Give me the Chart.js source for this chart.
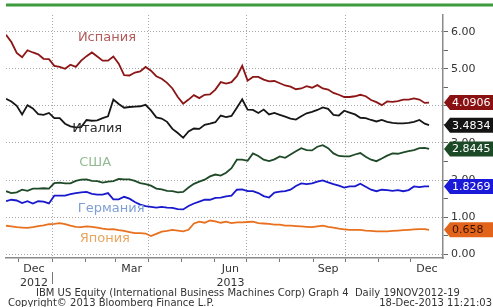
<!DOCTYPE html>
<html><head><meta charset="utf-8">
<script src="https://cdn.jsdelivr.net/npm/chart.js@4.4.1/dist/chart.umd.min.js"></script>
<style>html,body{margin:0;padding:0;background:#fff;overflow:hidden}#wrap{width:493px;height:307px;position:relative}</style>
</head><body><div id="wrap"><canvas id="c" width="493" height="307"></canvas></div>
<script>
// trading-day offsets from 19-Nov-2012
const days = [0,5,10,15,20,25,30,35,40,45,50,55,60,65,70,75,80,85,90,95,
  100,105,110,115,120,125,130,135,140,145,150,155,160,165,170,175,180,185,190,195,
  200,205,210,215,220,225,230,235,240,245,250,255,260,265,270,275,280,285,290,295,
  300,305,310,315,320,325,330,335,340,345,350,355,360,365,370,375,380,385,390,394];

const spain = [5.92,5.72,5.43,5.31,5.50,5.44,5.39,5.27,5.26,5.08,
 5.05,5.00,5.11,5.05,5.22,5.34,5.44,5.33,5.22,5.22,
 5.33,5.14,4.83,4.82,4.90,4.93,5.05,4.95,4.80,4.73,
 4.62,4.47,4.24,4.06,4.17,4.29,4.21,4.30,4.31,4.44,
 4.64,4.60,4.64,4.80,5.08,4.68,4.78,4.78,4.71,4.66,
 4.67,4.61,4.55,4.52,4.45,4.47,4.53,4.49,4.56,4.47,
 4.44,4.35,4.30,4.24,4.24,4.26,4.30,4.26,4.16,4.10,
 4.02,4.12,4.11,4.13,4.17,4.17,4.20,4.17,4.08,4.09];

const italy = [4.19,4.12,4.00,3.77,4.02,3.93,3.78,3.76,3.81,3.67,
 3.67,3.52,3.45,3.42,3.43,3.62,3.60,3.61,3.67,3.72,
 4.17,4.05,3.95,3.97,3.98,3.99,4.03,3.88,3.69,3.66,
 3.57,3.38,3.27,3.14,3.31,3.39,3.38,3.49,3.52,3.56,
 3.74,3.70,3.73,3.95,4.18,3.90,3.89,3.81,3.90,3.77,
 3.81,3.76,3.71,3.66,3.63,3.72,3.80,3.84,3.89,3.96,
 3.92,3.76,3.74,3.87,3.82,3.77,3.68,3.67,3.62,3.58,
 3.62,3.57,3.54,3.53,3.53,3.54,3.57,3.62,3.52,3.48];

const usa = [1.70,1.65,1.67,1.74,1.71,1.77,1.77,1.78,1.77,1.92,
 1.93,1.91,1.91,1.98,2.01,2.02,1.98,1.97,1.93,1.96,
 1.97,2.03,2.02,2.02,1.98,1.92,1.89,1.85,1.77,1.75,
 1.71,1.70,1.67,1.68,1.80,1.90,1.96,2.01,2.10,2.15,
 2.12,2.20,2.32,2.55,2.55,2.52,2.72,2.65,2.55,2.51,
 2.56,2.64,2.60,2.69,2.78,2.86,2.81,2.80,2.90,2.94,
 2.86,2.72,2.65,2.64,2.64,2.69,2.73,2.63,2.55,2.51,
 2.58,2.66,2.72,2.71,2.75,2.78,2.81,2.86,2.87,2.84];

const germany = [1.43,1.47,1.45,1.38,1.43,1.37,1.43,1.42,1.37,1.58,
 1.58,1.58,1.62,1.65,1.67,1.68,1.63,1.61,1.61,1.65,
 1.48,1.48,1.55,1.50,1.41,1.34,1.30,1.28,1.26,1.28,
 1.26,1.25,1.22,1.21,1.30,1.37,1.42,1.47,1.47,1.52,
 1.53,1.56,1.58,1.74,1.75,1.70,1.70,1.65,1.57,1.53,
 1.66,1.69,1.70,1.74,1.84,1.91,1.89,1.91,1.96,1.99,
 1.94,1.89,1.85,1.80,1.83,1.83,1.90,1.82,1.74,1.70,
 1.74,1.73,1.71,1.73,1.70,1.73,1.83,1.81,1.83,1.83];

const japan = [0.77,0.75,0.73,0.72,0.71,0.73,0.76,0.78,0.81,0.82,
 0.84,0.81,0.77,0.74,0.73,0.75,0.74,0.72,0.69,0.67,
 0.68,0.65,0.63,0.60,0.57,0.57,0.56,0.49,0.55,0.61,
 0.63,0.66,0.64,0.62,0.66,0.83,0.88,0.85,0.91,0.89,
 0.85,0.88,0.84,0.86,0.86,0.87,0.88,0.84,0.83,0.82,
 0.80,0.80,0.77,0.77,0.76,0.75,0.74,0.73,0.75,0.77,
 0.74,0.72,0.69,0.67,0.66,0.66,0.66,0.64,0.63,0.62,
 0.62,0.62,0.63,0.64,0.65,0.66,0.67,0.68,0.68,0.66];

const seriesNames = ['Испания','Италия','США','Германия','Япония'];
const lastValueLabels = ['4.0906','3.4834','2.8445','1.8269','0.658'];

// x axis: month starts (tick marks), quarter starts (grid), month labels (mid-month)
const monthStartDays = [12,43,74,102,133,163,194,224,255,286,316,347,377];
const quarterStartDays = [43,133,224,316];
const labelDays = [26,117,209,300,392];
const labelTexts = [['Dec','2012'],['Mar',''],['Jun','2013'],['Sep',''],['Dec','']];
const yearBreakDays = [43];
const yTickValues = [0,1,2,3,4,5,6];

const footerLine1 = 'IBM US Equity (International Business Machines Corp) Graph 4  Daily 19NOV2012-19';
const footerLine2 = 'Copyright\u00A9 2013 Bloomberg Finance L.P.';
const footerDate = '18-Dec-2013 11:21:03';

// styling (not data)
const lineColors = ['#8c1515','#161616','#1e4a28','#1818cc','#e8701e'];
const nameColors = ['#b35a5a','#2b2b2b','#93bb93','#7e9fd3','#e9a45e'];
const boxColors = ['#8a1111','#141414','#1c4a26','#1a1ad8','#e2641a'];
const boxTextColors = ['#ffffff','#ffffff','#ffffff','#ffffff','#3a1200'];
const nameAnchors = [[94,5.84],[85,3.39],[83,2.47],[98,1.23],[92,0.42]]; // [day, value]

const seriesValues = [spain, italy, usa, germany, japan];
const FONT = '"DejaVu Sans", Verdana, sans-serif';

const overlay = {
  id: 'overlay',
  afterDatasetsDraw(chart) {
    const ctx = chart.ctx, xs = chart.scales.x, ys = chart.scales.y;
    ctx.save();
    ctx.font = '13px ' + FONT;
    ctx.textAlign = 'center';
    ctx.textBaseline = 'middle';
    seriesNames.forEach((n, i) => {
      ctx.fillStyle = nameColors[i];
      ctx.fillText(n, xs.getPixelForValue(nameAnchors[i][0]), ys.getPixelForValue(nameAnchors[i][1]));
    });
    ctx.restore();
  },
  afterDraw(chart) {
    const ctx = chart.ctx, xs = chart.scales.x, ys = chart.scales.y, ca = chart.chartArea;
    ctx.save();
    // top green rule
    ctx.strokeStyle = '#3d9b3d';
    ctx.lineWidth = 3;
    ctx.beginPath(); ctx.moveTo(ca.left, 5); ctx.lineTo(chart.width, 5); ctx.stroke();
    // last-value boxes
    ctx.font = '11px ' + FONT;
    ctx.textBaseline = 'middle';
    ctx.textAlign = 'left';
    seriesValues.forEach((arr, i) => {
      const y = ys.getPixelForValue(arr[arr.length - 1]);
      const x0 = ca.right + 1;
      ctx.fillStyle = boxColors[i];
      ctx.beginPath();
      ctx.moveTo(x0, y);
      ctx.lineTo(x0 + 6, y - 7.5);
      ctx.lineTo(chart.width, y - 7.5);
      ctx.lineTo(chart.width, y + 7.5);
      ctx.lineTo(x0 + 6, y + 7.5);
      ctx.closePath();
      ctx.fill();
      ctx.fillStyle = boxTextColors[i];
      ctx.fillText(lastValueLabels[i], x0 + 8, y + 0.5);
    });
    // year separator
    ctx.strokeStyle = '#777';
    ctx.lineWidth = 1;
    yearBreakDays.forEach(d => {
      const x = Math.round(xs.getPixelForValue(d)) + 0.5;
      ctx.beginPath(); ctx.moveTo(x, 272); ctx.lineTo(x, 284); ctx.stroke();
    });
    // footer
    ctx.fillStyle = '#333';
    ctx.font = '10px ' + FONT;
    ctx.textAlign = 'left';
    ctx.fillText(footerLine1, 36, 293);
    ctx.fillText(footerLine2, 8, 303);
    ctx.textAlign = 'right';
    ctx.fillText(footerDate, 492, 303);
    ctx.restore();
  }
};

const datasets = seriesValues.map((arr, i) => ({
  label: seriesNames[i],
  data: days.map((d, k) => ({ x: d, y: arr[k] })),
  borderColor: lineColors[i],
  borderWidth: 1.8,
  pointRadius: 0,
  tension: 0,
  fill: false
}));

new Chart(document.getElementById('c'), {
  type: 'line',
  data: { datasets },
  options: {
    responsive: false,
    animation: false,
    devicePixelRatio: 1,
    layout: { padding: { left: 6, top: 15, right: 0, bottom: 19 } },
    plugins: { legend: { display: false }, tooltip: { enabled: false } },
    scales: {
      x: {
        type: 'linear',
        min: 0, max: 407,
        afterBuildTicks(scale) {
          const vals = [...monthStartDays, ...labelDays].sort((a, b) => a - b);
          scale.ticks = vals.map(v => ({ value: v }));
        },
        afterFit(scale) { scale.height = 30; },
        ticks: {
          autoSkip: false, maxRotation: 0, minRotation: 0, padding: 0,
          color: '#333', font: { family: FONT, size: 11, lineHeight: 1.3 },
          callback(v) { const i = labelDays.indexOf(v); return i >= 0 ? labelTexts[i] : ''; }
        },
        grid: {
          color: c => (c.tick && quarterStartDays.includes(c.tick.value)) ? '#a8a8a8' : 'rgba(0,0,0,0)',
          lineWidth: 1,
          tickColor: c => (c.tick && monthStartDays.includes(c.tick.value)) ? '#777' : 'rgba(0,0,0,0)',
          tickLength: 4,
          tickBorderDash: []
        },
        border: { display: true, color: '#8a8a8a', width: 1.5, dash: [1, 2] }
      },
      y: {
        position: 'right',
        min: -0.1, max: 6.45,
        afterFit(scale) { scale.width = 50; },
        ticks: {
          stepSize: 0.5, includeBounds: false, padding: 3,
          color: '#333', font: { family: FONT, size: 11 },
          callback(v) { return yTickValues.includes(v) ? v.toFixed(2) : ''; }
        },
        grid: {
          color: c => (c.tick && yTickValues.includes(c.tick.value)) ? '#a8a8a8' : 'rgba(0,0,0,0)',
          lineWidth: 1,
          tickColor: '#666',
          tickLength: 5,
          tickBorderDash: []
        },
        border: { display: true, color: '#8a8a8a', width: 1.5, dash: [1, 2] }
      }
    }
  },
  plugins: [overlay]
});
</script>
</body></html>
